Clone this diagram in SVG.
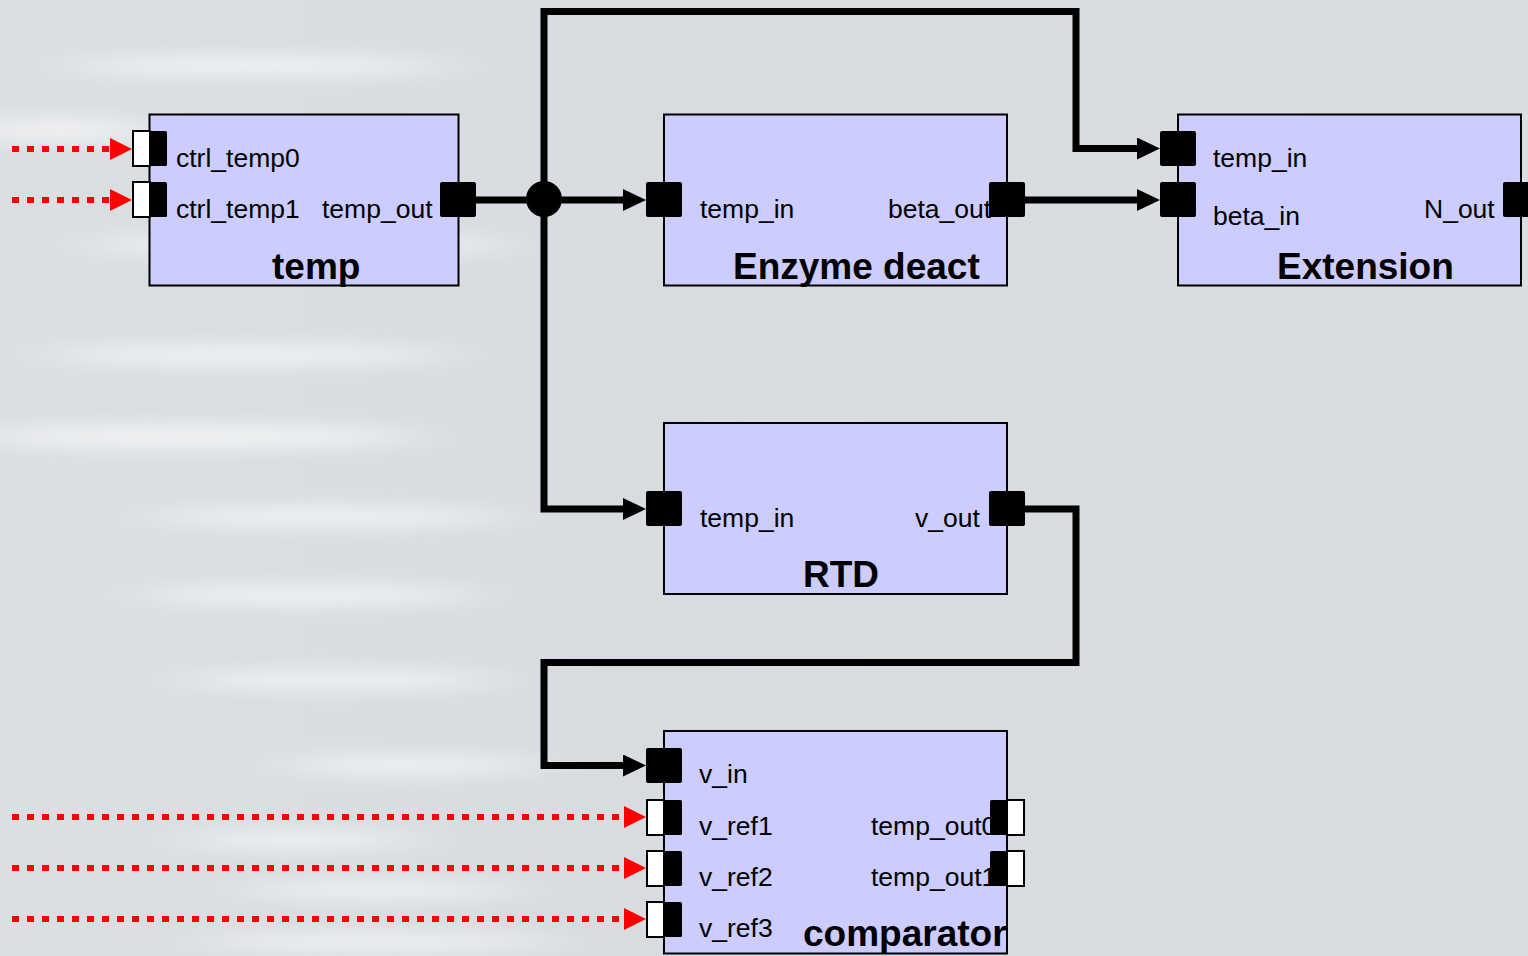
<svg xmlns="http://www.w3.org/2000/svg" width="1528" height="956" viewBox="0 0 1528 956">
<defs>
<style>
.blk{fill:#ccccff;stroke:#000;stroke-width:2}
.port{fill:#000}
.wport{fill:#fff;stroke:#000;stroke-width:2}
.lbl{font-family:"Liberation Sans",Arial,sans-serif;font-size:26.5px;fill:#000}
.ttl{font-family:"Liberation Sans",Arial,sans-serif;font-size:37px;font-weight:bold;fill:#000}
.wire{fill:none;stroke:#000;stroke-width:7;stroke-linejoin:miter;stroke-linecap:butt}
.sig{fill:none;stroke:#f00;stroke-width:6;stroke-dasharray:7 8}
.streak{fill:#fff}
</style>
<marker id="arrK" markerUnits="userSpaceOnUse" markerWidth="24" markerHeight="24" refX="0" refY="11" orient="auto" viewBox="0 0 24 24">
<path d="M0,0 L23,11 L0,22 z" fill="#000"/>
</marker>
<marker id="arrR" markerUnits="userSpaceOnUse" markerWidth="24" markerHeight="24" refX="0" refY="11" orient="auto" viewBox="0 0 24 24">
<path d="M0,0 L22,11 L0,22 z" fill="#f00"/>
</marker>
<filter id="soft" x="-50%" y="-300%" width="200%" height="700%">
<feGaussianBlur stdDeviation="40 9"/>
</filter>
<linearGradient id="bg" x1="0" y1="0" x2="1" y2="0">
<stop offset="0" stop-color="#dcdfe2"/>
<stop offset="0.4" stop-color="#d8dce0"/>
<stop offset="1" stop-color="#d9dde0"/>
</linearGradient>
</defs>

<g id="background">
<rect x="0" y="0" width="1528" height="956" fill="url(#bg)"/>
<g filter="url(#soft)" opacity="0.6">
<ellipse class="streak" cx="260" cy="66" rx="190" ry="10"/>
<ellipse class="streak" cx="60" cy="130" rx="90" ry="12"/>
<ellipse class="streak" cx="300" cy="245" rx="210" ry="11"/>
<ellipse class="streak" cx="250" cy="355" rx="200" ry="10"/>
<ellipse class="streak" cx="200" cy="437" rx="220" ry="12"/>
<ellipse class="streak" cx="330" cy="517" rx="180" ry="10"/>
<ellipse class="streak" cx="310" cy="595" rx="170" ry="10"/>
<ellipse class="streak" cx="340" cy="680" rx="160" ry="10"/>
<ellipse class="streak" cx="410" cy="765" rx="130" ry="10"/>
<ellipse class="streak" cx="300" cy="840" rx="120" ry="9"/>
<ellipse class="streak" cx="380" cy="890" rx="140" ry="9"/>
<ellipse class="streak" cx="380" cy="942" rx="180" ry="9"/>
</g>
</g>

<g id="connectors">
<path class="wire" d="M476,200 H623" marker-end="url(#arrK)"/>
<path class="wire" d="M544,200 V11.5 H1076 V148.5 H1137" marker-end="url(#arrK)"/>
<path class="wire" d="M544,200 V509 H623" marker-end="url(#arrK)"/>
<path class="wire" d="M1025,200 H1137" marker-end="url(#arrK)"/>
<path class="wire" d="M1025,509 H1076 V662.5 H544 V765.5 H623" marker-end="url(#arrK)"/>
<circle cx="544" cy="199" r="18" fill="#000"/>
<path class="sig" d="M12,149 H110" marker-end="url(#arrR)"/>
<path class="sig" d="M12,200 H110" marker-end="url(#arrR)"/>
<path class="sig" d="M12,817 H624" marker-end="url(#arrR)"/>
<path class="sig" d="M12,868 H624" marker-end="url(#arrR)"/>
<path class="sig" d="M12,919 H624" marker-end="url(#arrR)"/>
</g>

<g id="temp">
<rect class="blk" x="149.5" y="114.5" width="309" height="171"/>
<text class="lbl" x="176" y="167">ctrl_temp0</text>
<text class="lbl" x="176" y="218">ctrl_temp1</text>
<text class="lbl" x="322" y="218">temp_out</text>
<text class="ttl" x="272" y="279">temp</text>
<rect class="wport" x="133" y="131" width="17" height="35"/>
<rect class="port" x="150" y="131" width="17" height="35" rx="1.5"/>
<rect class="wport" x="133" y="182" width="17" height="35"/>
<rect class="port" x="150" y="182" width="17" height="35" rx="1.5"/>
<rect class="port" x="440" y="182" width="36" height="35" rx="2"/>
</g>

<g id="enzyme-deact">
<rect class="blk" x="664" y="114.5" width="343" height="171"/>
<text class="lbl" x="700" y="218">temp_in</text>
<text class="lbl" x="888" y="218">beta_out</text>
<text class="ttl" x="733" y="279">Enzyme deact</text>
<rect class="port" x="646" y="182" width="36" height="35" rx="2"/>
<rect class="port" x="989" y="182" width="36" height="35" rx="2"/>
</g>

<g id="extension">
<rect class="blk" x="1178" y="114.5" width="343" height="171"/>
<text class="lbl" x="1213" y="167">temp_in</text>
<text class="lbl" x="1213" y="225">beta_in</text>
<text class="lbl" x="1424" y="218">N_out</text>
<text class="ttl" x="1277" y="279">Extension</text>
<rect class="port" x="1160" y="131" width="36" height="35" rx="2"/>
<rect class="port" x="1160" y="182" width="36" height="35" rx="2"/>
<rect class="port" x="1503" y="182" width="36" height="35" rx="2"/>
</g>

<g id="rtd">
<rect class="blk" x="664" y="423" width="343" height="171"/>
<text class="lbl" x="700" y="527">temp_in</text>
<text class="lbl" x="915" y="527">v_out</text>
<text class="ttl" x="803" y="587">RTD</text>
<rect class="port" x="646" y="491" width="36" height="35" rx="2"/>
<rect class="port" x="989" y="491" width="36" height="35" rx="2"/>
</g>

<g id="comparator">
<rect class="blk" x="664" y="731" width="343" height="222.5"/>
<text class="lbl" x="699" y="783">v_in</text>
<text class="lbl" x="699" y="835">v_ref1</text>
<text class="lbl" x="699" y="886">v_ref2</text>
<text class="lbl" x="699" y="937">v_ref3</text>
<text class="lbl" x="871" y="835">temp_out0</text>
<text class="lbl" x="871" y="886">temp_out1</text>
<text class="ttl" x="803" y="946">comparator</text>
<rect class="port" x="646" y="748" width="36" height="35" rx="2"/>
<rect class="wport" x="647" y="800" width="17" height="35"/>
<rect class="port" x="664" y="800" width="18" height="35" rx="1.5"/>
<rect class="wport" x="647" y="851" width="17" height="35"/>
<rect class="port" x="664" y="851" width="18" height="35" rx="1.5"/>
<rect class="wport" x="647" y="902" width="17" height="35"/>
<rect class="port" x="664" y="902" width="18" height="35" rx="1.5"/>
<rect class="wport" x="1007" y="800" width="17" height="35"/>
<rect class="port" x="990" y="800" width="17" height="35" rx="1.5"/>
<rect class="wport" x="1007" y="851" width="17" height="35"/>
<rect class="port" x="990" y="851" width="17" height="35" rx="1.5"/>
</g>
</svg>
